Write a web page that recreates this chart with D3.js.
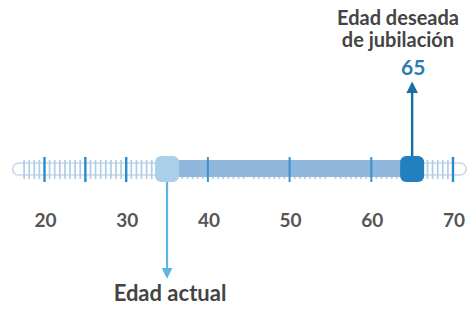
<!DOCTYPE html>
<html>
<head>
<meta charset="utf-8">
<script src="https://cdn.jsdelivr.net/npm/d3@7"></script>
<style>
  body { margin: 0; background: #fff; }
  svg { display: block; }
</style>
</head>
<body>
<div id="chart"></div>
<script>
// Data
const currentAge = 35;
const retirementAge = 65;
const railAges = [16.1, 71.6];
const majorTicks = [20, 25, 30, 35, 40, 45, 50, 55, 60, 65, 70];
const decadeTicks = [40, 50, 60];
const tickLabels = [20, 30, 40, 50, 60, 70];
// minor ticks: 7 between each 5-year step, plus a few before 20
const minorTicks = [17.5, 18.125, 18.75, 19.375].concat(
    d3.range(20, 70, 5).flatMap(a => [1, 2, 3, 4, 5, 6, 7].map(i => a + i * 0.625)));

const titleLines = ["Edad deseada", "de jubilación"];
const currentLabel = "Edad actual";

const width = 469, height = 311;

const svg = d3.select("#chart")
    .append("svg")
    .attr("width", width)
    .attr("height", height);

const x = d3.scaleLinear()
    .domain([20, 70])
    .range([44.5, 453]);

const railY = 169; // center line of the track

// Outline of the track with rounded ends
svg.append("rect")
    .attr("x", x(railAges[0]))
    .attr("y", railY - 6)
    .attr("width", x(railAges[1]) - x(railAges[0]))
    .attr("height", 12)
    .attr("rx", 6)
    .attr("fill", "#fff")
    .attr("stroke", "#c9d9e8")
    .attr("stroke-width", 1.6);

// Minor ticks
svg.selectAll(".minor")
    .data(minorTicks)
    .join("line")
    .attr("class", "minor")
    .attr("x1", d => x(d)).attr("x2", d => x(d))
    .attr("y1", railY - 9).attr("y2", railY + 10)
    .attr("stroke", "#b0cde6")
    .attr("stroke-width", 1.7);

// 5-year ticks (those inside the filled span are hidden by it)
svg.selectAll(".major")
    .data(majorTicks.filter(d => d < currentAge || d > retirementAge))
    .join("line")
    .attr("class", "major")
    .attr("x1", d => x(d)).attr("x2", d => x(d))
    .attr("y1", railY - 12).attr("y2", railY + 13)
    .attr("stroke", "#2a8bc9")
    .attr("stroke-width", 2.4);

// Filled span from current age to retirement age
svg.append("rect")
    .attr("x", x(currentAge))
    .attr("y", railY - 9)
    .attr("width", x(retirementAge) - x(currentAge))
    .attr("height", 17)
    .attr("fill", "#8fb8dc");

// Decade ticks over the filled span
svg.selectAll(".decade")
    .data(decadeTicks)
    .join("line")
    .attr("class", "decade")
    .attr("x1", d => x(d)).attr("x2", d => x(d))
    .attr("y1", railY - 12).attr("y2", railY + 13)
    .attr("stroke", "#3a92cc")
    .attr("stroke-width", 2);

// Markers
svg.append("rect")
    .attr("x", x(currentAge) - 12)
    .attr("y", railY - 13)
    .attr("width", 24).attr("height", 26)
    .attr("rx", 6)
    .attr("fill", "#a9d0e8");

svg.append("rect")
    .attr("x", x(retirementAge) - 12)
    .attr("y", railY - 13)
    .attr("width", 24).attr("height", 26)
    .attr("rx", 6)
    .attr("fill", "#2180bd");

// Arrows
const defs = svg.append("defs");
function addHead(id, color) {
    defs.append("marker")
        .attr("id", id)
        .attr("viewBox", "0 0 10 10")
        .attr("refX", 2).attr("refY", 5)
        .attr("markerWidth", 5).attr("markerHeight", 5)
        .attr("markerUnits", "strokeWidth")
        .attr("orient", "auto")
        .append("path")
        .attr("d", "M0,0 L10,5 L0,10 Z")
        .attr("fill", color);
}
addHead("headDown", "#5cb6e4");
addHead("headUp", "#1a6ea8");

svg.append("line")
    .attr("x1", x(currentAge)).attr("x2", x(currentAge))
    .attr("y1", railY + 13).attr("y2", 270)
    .attr("stroke", "#5cb6e4")
    .attr("stroke-width", 2.2)
    .attr("marker-end", "url(#headDown)");

svg.append("line")
    .attr("x1", x(retirementAge)).attr("x2", x(retirementAge))
    .attr("y1", railY - 13).attr("y2", 91)
    .attr("stroke", "#1a6ea8")
    .attr("stroke-width", 2.4)
    .attr("marker-end", "url(#headUp)");

// Tick labels
svg.selectAll(".tick-label")
    .data(tickLabels)
    .join("text")
    .attr("class", "tick-label")
    .attr("x", d => x(d) + 1)
    .attr("y", 227)
    .attr("text-anchor", "middle")
    .attr("font-family", "Lato, sans-serif")
    .attr("font-weight", "bold")
    .attr("font-size", "19px")
    .attr("fill", "#555")
    .text(d => d);

// Retirement label
svg.selectAll(".title")
    .data(titleLines)
    .join("text")
    .attr("class", "title")
    .attr("x", 398)
    .attr("y", (d, i) => 25 + i * 22)
    .attr("text-anchor", "middle")
    .attr("font-family", "Lato, sans-serif")
    .attr("font-weight", "bold")
    .attr("font-size", "20px")
    .attr("fill", "#444")
    .text(d => d);

svg.append("text")
    .attr("x", x(retirementAge) + 1)
    .attr("y", 75)
    .attr("text-anchor", "middle")
    .attr("font-family", "Lato, sans-serif")
    .attr("font-weight", "bold")
    .attr("font-size", "21px")
    .attr("fill", "#2b7bb6")
    .text(retirementAge);

// Current age label
svg.append("text")
    .attr("x", 170)
    .attr("y", 301)
    .attr("text-anchor", "middle")
    .attr("font-family", "Lato, sans-serif")
    .attr("font-weight", "bold")
    .attr("font-size", "22px")
    .attr("fill", "#444")
    .text(currentLabel);
</script>
</body>
</html>
